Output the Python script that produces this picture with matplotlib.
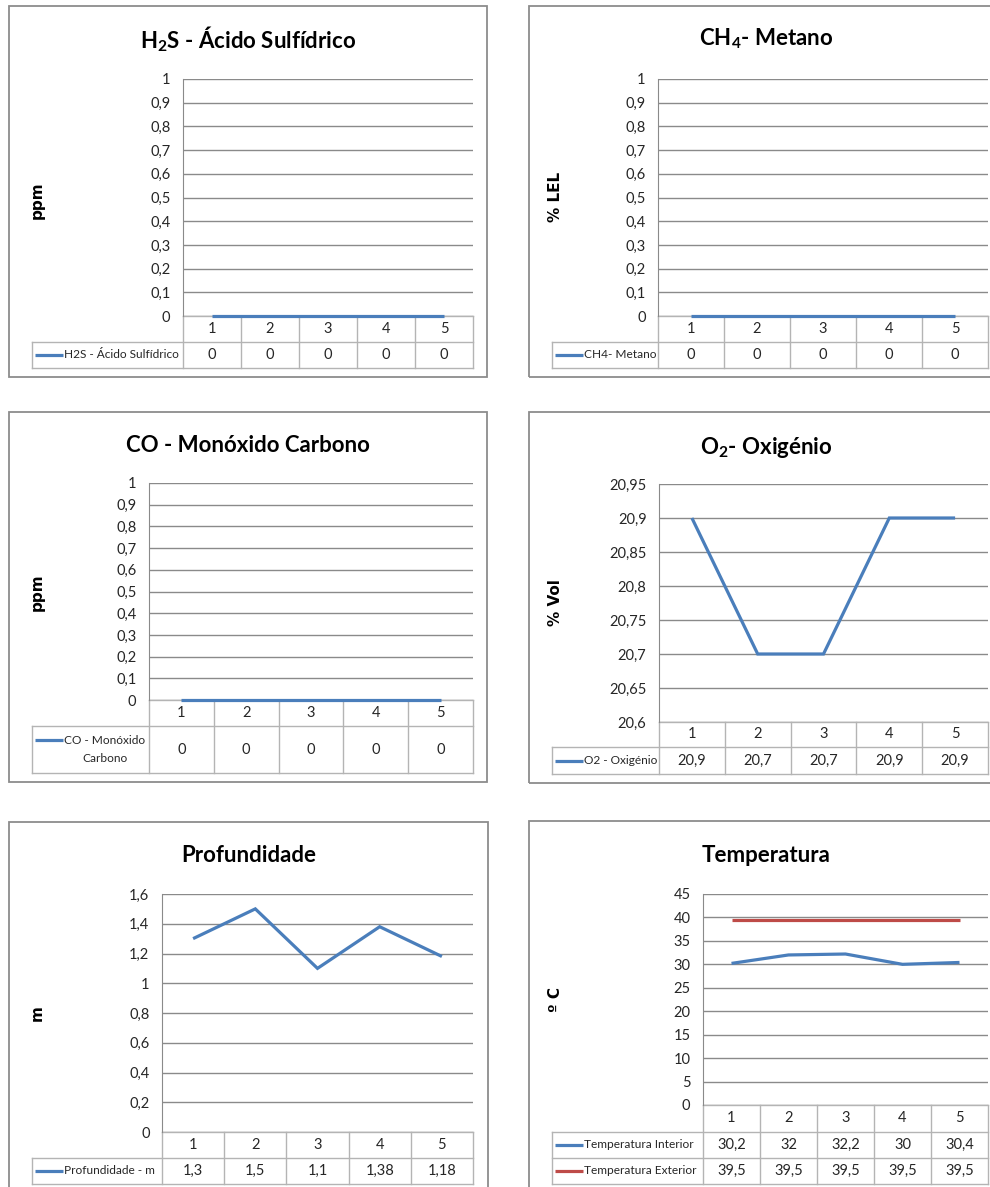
import matplotlib
matplotlib.use("Agg")
import matplotlib.pyplot as plt
from matplotlib import font_manager
from matplotlib.patches import Rectangle
from matplotlib.lines import Line2D
from matplotlib.transforms import blended_transform_factory

# ---- data -------------------------------------------------------------
categories = [1, 2, 3, 4, 5]

h2s = [0, 0, 0, 0, 0]
ch4 = [0, 0, 0, 0, 0]
co = [0, 0, 0, 0, 0]
o2 = [20.9, 20.7, 20.7, 20.9, 20.9]
depth = [1.3, 1.5, 1.1, 1.38, 1.18]
temp_inside = [30.2, 32, 32.2, 30, 30.4]
temp_outside = [39.5, 39.5, 39.5, 39.5, 39.5]

ticks_unit = [0, 0.1, 0.2, 0.3, 0.4, 0.5, 0.6, 0.7, 0.8, 0.9, 1]
ticks_o2 = [20.6, 20.65, 20.7, 20.75, 20.8, 20.85, 20.9, 20.95]
ticks_depth = [0, 0.2, 0.4, 0.6, 0.8, 1, 1.2, 1.4, 1.6]
ticks_temp = [0, 5, 10, 15, 20, 25, 30, 35, 40, 45]

# ---- style ------------------------------------------------------------
W, H = 990, 1187
BLUE = "#4A7EBB"
RED = "#BE4B48"
GRID = "#8a8a8a"
TABLE = "#b4b4b4"
FRAME = "#8c8c8c"
TEXT = "#262626"

names = {f.name for f in font_manager.fontManager.ttflist}
BODY = "Lato" if "Lato" in names else "DejaVu Sans"
NARROW = "Liberation Sans Narrow" if "Liberation Sans Narrow" in names else BODY
plt.rcParams["font.family"] = [BODY, "DejaVu Sans"]
plt.rcParams["mathtext.default"] = "regular"

fig = plt.figure(figsize=(W / 100, H / 100), dpi=100)
fig.patch.set_facecolor("white")


def fx(x):
    return x / W


def fy(y):
    return 1 - y / H


def fmt(v):
    return f"{v:g}".replace(".", ",")


def panel(frame, plot, rows, table_left, title, title_y, ylabel, ylabel_x, ylabel_y,
          yticks, series):
    x0, y0, x1, y1 = frame
    fig.add_artist(Rectangle((fx(x0), fy(y1)), (x1 - x0) / W, (y1 - y0) / H,
                             transform=fig.transFigure, fill=False, ec=FRAME, lw=1.3))
    fig.text(fx((x0 + x1) / 2), fy(title_y), title, ha="center", va="center",
             fontsize=16, fontweight="bold", color="black")
    fig.text(fx(ylabel_x), fy(ylabel_y), ylabel, rotation=90, ha="center", va="center",
             fontsize=11, fontweight="bold", family="DejaVu Sans", color="black")

    l, t, r, b = plot
    ax = fig.add_axes([fx(l), fy(b), (r - l) / W, (b - t) / H])
    ax.patch.set_alpha(0)
    ax.set_xlim(0.5, len(categories) + 0.5)
    ax.set_ylim(yticks[0], yticks[-1])
    ax.set_yticks(yticks)
    ax.set_yticklabels([fmt(v) for v in yticks])
    ax.set_xticks([])
    ax.grid(axis="y", color=GRID, lw=1)
    ax.set_axisbelow(True)
    for s in ("top", "right", "bottom"):
        ax.spines[s].set_visible(False)
    ax.spines["left"].set_color(GRID)
    ax.tick_params(axis="y", length=0, pad=9, labelsize=10.5, labelcolor=TEXT)

    for name, values, color in series:
        ax.plot(categories, values, color=color, lw=2.3, solid_capstyle="butt",
                solid_joinstyle="miter", clip_on=False, zorder=4)

    # data table under the plot
    blend = blended_transform_factory(ax.transData, fig.transFigure)
    edges = [c - 0.5 for c in categories] + [categories[-1] + 0.5]
    ax.plot([edges[0], edges[-1]], [fy(rows[0])] * 2, transform=blend,
            color=TABLE, lw=1, clip_on=False, zorder=2)
    for yy in rows[1:]:
        fig.add_artist(Line2D([fx(table_left), fx(r)], [fy(yy)] * 2,
                              transform=fig.transFigure, color=TABLE, lw=1))
    for e in edges:
        ax.plot([e, e], [fy(rows[0]), fy(rows[-1])], transform=blend,
                color=TABLE, lw=1, clip_on=False, zorder=2)
    fig.add_artist(Line2D([fx(table_left)] * 2, [fy(rows[1]), fy(rows[-1])],
                          transform=fig.transFigure, color=TABLE, lw=1))

    yc = fy((rows[0] + rows[1]) / 2)
    for c in categories:
        ax.text(c, yc, str(c), transform=blend, ha="center", va="center",
                fontsize=10.5, color=TEXT, clip_on=False)

    for i, (name, values, color) in enumerate(series):
        yc_px = (rows[i + 1] + rows[i + 2]) / 2
        yc = fy(yc_px)
        for c, v in zip(categories, values):
            ax.text(c, yc, fmt(v), transform=blend, ha="center", va="center",
                    fontsize=10.5, color=TEXT, clip_on=False)
        n_lines = name.count("\n") + 1
        key_y = fy(yc_px - (n_lines - 1) * 10)
        fig.add_artist(Line2D([fx(table_left + 3), fx(table_left + 31)], [key_y] * 2,
                              transform=fig.transFigure, color=color, lw=2.3,
                              solid_capstyle="butt"))
        fig.text(fx(table_left + 32), yc, name, ha="left", va="center",
                 fontsize=8.6, color=TEXT, family=[NARROW, "DejaVu Sans"],
                 multialignment="center", linespacing=1.7)


panel((9, 6, 487, 377), (183, 79, 473, 316), [316, 342, 368], 32,
      "H$_2$S - Ácido Sulfídrico", 39, "ppm", 37, 200, ticks_unit,
      [("H2S - Ácido Sulfídrico", h2s, BLUE)])

panel((529, 6, 1003, 377), (658, 79, 988, 316), [316, 342, 368], 552,
      "CH$_4$- Metano", 39, "% LEL", 555, 197, ticks_unit,
      [("CH4- Metano", ch4, BLUE)])

panel((9, 412, 487, 782), (149, 483, 473, 700), [700, 726, 773], 32,
      "CO - Monóxido Carbono", 445, "ppm", 37, 592, ticks_unit,
      [("CO - Monóxido\nCarbono", co, BLUE)])

panel((529, 412, 1003, 783), (659, 484, 988, 722), [722, 747, 774], 552,
      "O$_2$- Oxigénio", 447, "% Vol", 555, 603, ticks_o2,
      [("O2 - Oxigénio", o2, BLUE)])

panel((9, 822, 488, 1210), (162, 894, 473, 1132), [1132, 1158, 1184], 32,
      "Profundidade", 855, "m", 37, 1013, ticks_depth,
      [("Profundidade - m", depth, BLUE)])

panel((529, 821, 1003, 1210), (703, 894, 988, 1105), [1105, 1132, 1158, 1184], 552,
      "Temperatura", 855, "º C", 555, 1000, ticks_temp,
      [("Temperatura Interior", temp_inside, BLUE),
       ("Temperatura Exterior", temp_outside, RED)])

fig.savefig("out.png", dpi=100, facecolor="white")
